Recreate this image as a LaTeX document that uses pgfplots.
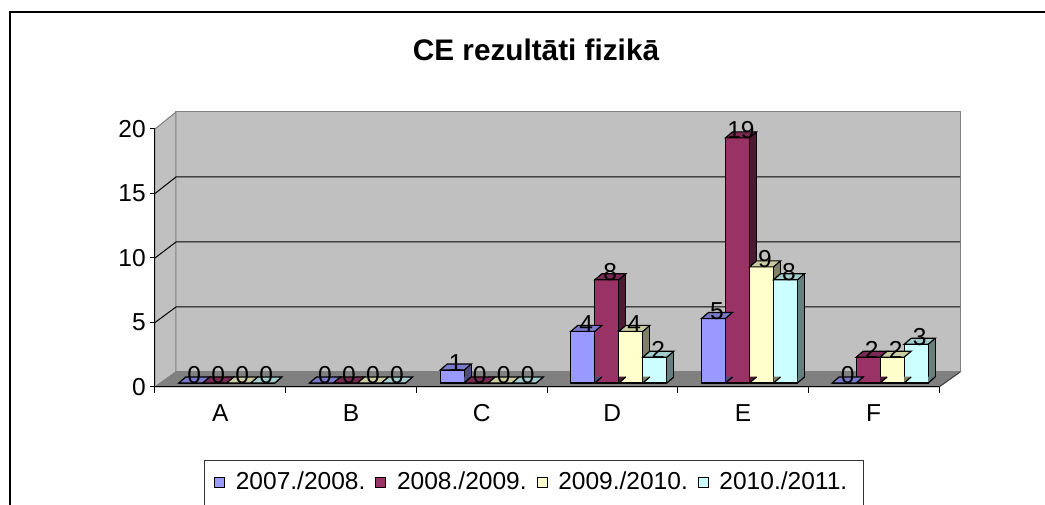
\documentclass[border=0pt]{standalone}
\usepackage{pgfplots}
\pgfplotsset{compat=1.18}
\usepackage{pgfplotstable}
\usepackage{fontspec}
\setmainfont{Liberation Sans}
\newcommand\lbl{\fontsize{18.4}{22}\selectfont}
\newcommand\ttl{\fontsize{22.3}{26}\selectfont\bfseries}

\definecolor{c1}{HTML}{9999FF}\definecolor{c1side}{HTML}{4D4D80}\definecolor{c1top}{HTML}{7A7ACC}
\definecolor{c2}{HTML}{993366}\definecolor{c2side}{HTML}{4D1A33}\definecolor{c2top}{HTML}{7A2952}
\definecolor{c3}{HTML}{FFFFCC}\definecolor{c3side}{HTML}{808066}\definecolor{c3top}{HTML}{CCCCA3}
\definecolor{c4}{HTML}{CCFFFF}\definecolor{c4side}{HTML}{668080}\definecolor{c4top}{HTML}{A3CCCC}
\definecolor{wall}{HTML}{C0C0C0}
\definecolor{floorc}{HTML}{808080}

\pgfplotstableread{
x a b c d
0 0 0 0 0
1 0 0 0 0
2 1 0 0 0
3 4 8 4 2
4 5 19 9 8
5 0 2 2 3
}\data

\pgfdeclareplotmark{topface}{%
  \pgfpathmoveto{\pgfqpoint{-9pt}{0pt}}%
  \pgfpathlineto{\pgfqpoint{9pt}{0pt}}%
  \pgfpathlineto{\pgfqpoint{14.25pt}{4.5pt}}%
  \pgfpathlineto{\pgfqpoint{-3.75pt}{4.5pt}}%
  \pgfpathclose\pgfusepathqfillstroke}
\pgfdeclareplotmark{notch}{%
  \pgfpathmoveto{\pgfqpoint{9pt}{0pt}}%
  \pgfpathlineto{\pgfqpoint{14.25pt}{4.5pt}}%
  \pgfpathlineto{\pgfqpoint{14.25pt}{4.8pt}}%
  \pgfpathlineto{\pgfqpoint{9pt}{4.8pt}}%
  \pgfpathclose\pgfusepathqfill
  \pgfpathmoveto{\pgfqpoint{9pt}{0pt}}%
  \pgfpathlineto{\pgfqpoint{14.25pt}{4.5pt}}%
  \pgfusepathqstroke}

% #1 column, #2 colour, #3 front shift, #4 side shift, #5 edge x offset, #6 mark x offset
\newcommand\series[6]{%
\addplot[forget plot, ybar, bar width=5.25pt, bar shift=#4pt, yshift=4.5pt, fill=#2side, draw=none] table[x=x,y=#1]{\data};
\addplot[forget plot, only marks, mark=notch, mark options={fill=#2side, draw=black, line width=0.9pt}] table[x expr=\thisrow{x}+#6, y expr=0]{\data};
\addplot[forget plot, ycomb, black, line width=0.9pt, yshift=4.5pt] table[x expr=\thisrow{x}+#5, y=#1]{\data};
\addplot[forget plot, ybar, bar width=18pt, bar shift=#3pt, fill=#2, draw=black, line width=0.9pt] table[x=x,y=#1]{\data};
\addplot[forget plot, only marks, mark=topface, mark options={fill=#2top, draw=black, line width=0.9pt},
  nodes near coords, every node near coord/.append style={font=\lbl, text=black, anchor=center, inner sep=0pt, xshift=2.6pt, yshift=5.6pt}]
  table[x expr=\thisrow{x}+#6, y=#1]{\data};
}

\tikzset{px/.style={shift={(-121.125pt,287.25pt)}, x=0.75pt, y=-0.75pt}}

\begin{document}
\begin{tikzpicture}
\begin{scope}[px]
\path (0,0) rectangle (1045,505);
\end{scope}
\begin{scope}[px, overlay]
% back wall, side wall, floor
\filldraw[fill=wall, draw=floorc, line width=0.75pt] (176,112) rectangle (960,372);
\filldraw[fill=wall, draw=floorc, line width=0.75pt] (155,129) -- (176,112) -- (176,372) -- (155,387) -- cycle;
\filldraw[fill=floorc, draw=floorc, line width=0.75pt] (155,387) -- (939,387) -- (960,372) -- (176,372) -- cycle;
\foreach \v in {5,10,15}{
  \draw[black, line width=0.75pt] (155,{387-12.9*\v}) -- (176,{372-13*\v}) -- (960,{372-13*\v});
}
\end{scope}

\begin{axis}[at={(0,0)}, anchor=south west, scale only axis,
  width=588pt, height=193.5pt,
  xmin=-0.5, xmax=5.5, ymin=0, ymax=20,
  hide axis, clip=false, overlay,
  /pgf/number format/assume math mode=true,
  legend columns=4,
  legend image code/.code={\draw[#1, draw=black, line width=0.7pt] (0pt,-3.75pt) rectangle (7.5pt,3.75pt);},
  legend style={at={(0.06696,-0.38372)}, anchor=west, draw=none, fill=none, inner sep=0pt,
    font=\lbl, nodes={inner sep=0pt},
    /tikz/every odd column/.append style={column sep=8pt},
    /tikz/every even column/.append style={column sep=7.5pt}},
  legend entries={2007./2008., 2008./2009., 2009./2010., 2010./2011.}
]
\addlegendimage{fill=c1}
\addlegendimage{fill=c2}
\addlegendimage{fill=c3}
\addlegendimage{fill=c4}
\series{a}{c1}{-27}{-15.375}{-0.130102}{-0.275510}
\series{b}{c2}{-9}{2.625}{0.053571}{-0.091837}
\series{c}{c3}{9}{20.625}{0.237245}{0.091837}
\series{d}{c4}{27}{38.625}{0.420918}{0.275510}
\end{axis}

\begin{scope}[px, overlay]
\draw[black!75, line width=0.75pt] (939,387) -- (960,372);
\draw[black, line width=0.75pt] (155,129) -- (155,387) -- (939,387);
\foreach \v in {0,5,10,15,20}{
  \draw[black, line width=0.75pt] (150,{387-12.9*\v}) -- (155,{387-12.9*\v});
  \node[anchor=east, inner sep=0pt, font=\lbl] at (146,{387-12.9*\v}) {\v};
}
\foreach \k in {0,...,6}{
  \draw[black, line width=0.75pt] ({155+130.667*\k},387) -- ({155+130.667*\k},393);
}
\foreach \c [count=\k from 0] in {A,B,C,D,E,F}{
  \node[anchor=base, inner sep=0pt, font=\lbl] at ({220.33+130.667*\k},421.5) {\c};
}
\node[anchor=base, inner sep=0pt, font=\ttl] at (536,60.7) {CE rezultāti fizikā};
\draw[black!80, line width=0.75pt] (204.7,560) -- (204.7,460.7) -- (863,460.7) -- (863,560);
\draw[black, line width=1.5pt] (10,560) -- (10,12) -- (1100,12);
\end{scope}
\end{tikzpicture}
\end{document}
